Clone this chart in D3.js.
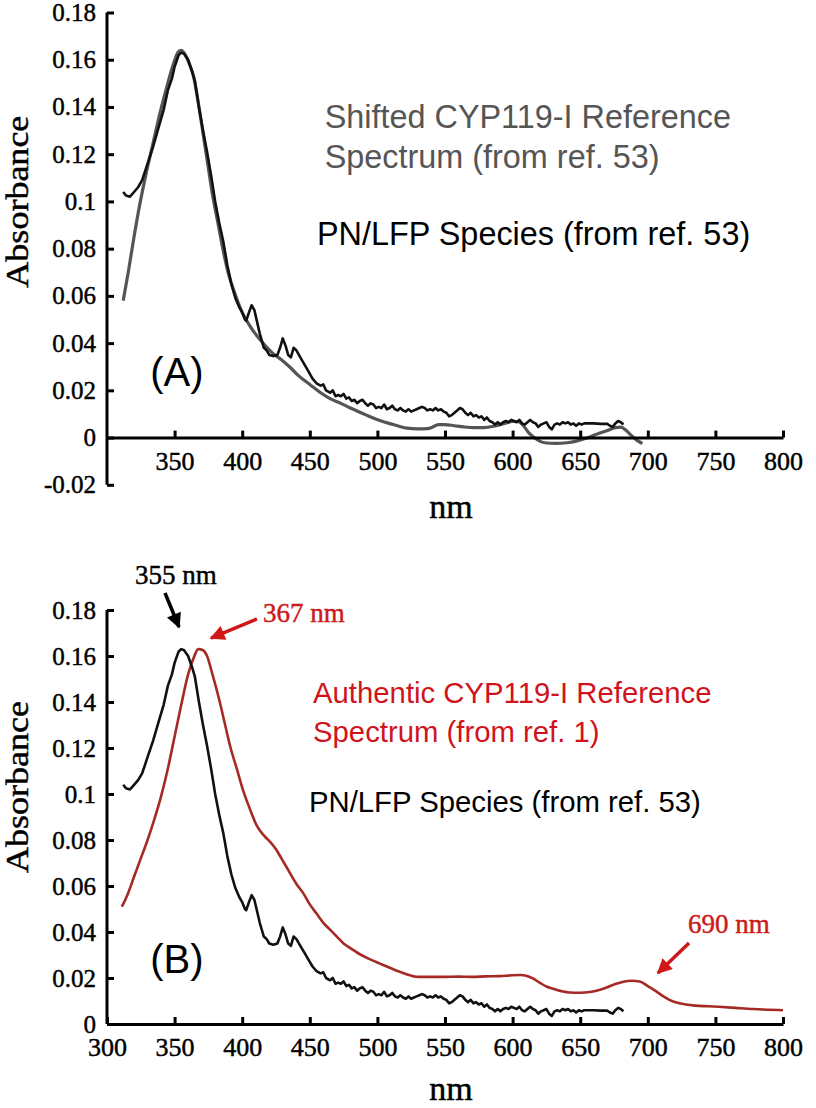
<!DOCTYPE html>
<html>
<head>
<meta charset="utf-8">
<script src="https://cdn.jsdelivr.net/npm/d3@7"></script>
<style>
body { margin: 0; background: #fff; }
.axis path, .axis line { stroke: #000; stroke-width: 3; }
.axis text { font-family: "Liberation Serif", serif; font-size: 25px; fill: #000; stroke: #000; stroke-width: 0.45; }
.ann { font-family: "Liberation Sans", Arial, sans-serif; }
.serif { font-family: "Liberation Serif", serif; stroke-width: 0.45; }
</style>
</head>
<body>
<svg id="chart"></svg>
<script>

// PN/LFP species spectrum (ref. 53), [nm, absorbance]
const pnlfp = [
  [312,0.104],[314,0.1025],[317,0.102],[320,0.104],[323,0.106],[326,0.109],[330,0.116],[334,0.123],
  [338,0.131],[342,0.139],[345,0.147],[348,0.152],[350,0.157],[353,0.162],[355,0.163],[357,0.1625],
  [360,0.160],[363,0.155],[365,0.151],[368,0.140],[371,0.130],[374,0.121],[377,0.111],[380,0.100],
  [383,0.091],[386,0.083],[389,0.073],[392,0.065],[395,0.059],[398,0.055],[400,0.053],[402,0.050],
  [403,0.0495],[405,0.053],[407,0.056],[409,0.054],[411,0.049],[413,0.044],[415,0.040],[416,0.038],
  [418,0.037],[420,0.035],[423,0.0345],[426,0.035],[428,0.038],[430,0.042],[432,0.039],[434,0.035],
  [436,0.034],[438,0.038],[440,0.037],[443,0.034],[446,0.031],[449,0.028],[452,0.025],[455,0.023],
  [458,0.022],[460,0.0225],[462,0.020],[465,0.019],[467,0.020],[469,0.0175],[471,0.018],[473,0.0175],
  [475,0.0185],[477,0.0165],[479,0.017],[481,0.0155],[483,0.016],[485,0.0145],[487,0.0155],[489,0.016],
  [491,0.0145],[493,0.0135],[495,0.0145],[497,0.014],[499,0.0125],[501,0.013],[503,0.0125],[505,0.014],
  [507,0.012],[509,0.0125],[511,0.0135],[513,0.012],[515,0.0115],[517,0.0125],[519,0.0115],[521,0.011],
  [523,0.012],[525,0.011],[527,0.0115],[529,0.012],[531,0.0125],[533,0.013],[535,0.0125],[537,0.0115],
  [539,0.012],[541,0.0115],[543,0.0125],[545,0.0115],[547,0.012],[549,0.011],[551,0.0105],[553,0.009],
  [555,0.0095],[557,0.0105],[559,0.0115],[561,0.0125],[563,0.012],[565,0.0105],[567,0.0095],[569,0.0105],
  [571,0.009],[573,0.0095],[575,0.0085],[577,0.009],[579,0.0075],[581,0.0085],[583,0.007],[585,0.0065],
  [587,0.0055],[589,0.0065],[591,0.0055],[593,0.0065],[595,0.007],[597,0.0065],[599,0.0075],[601,0.007],
  [603,0.0065],[605,0.0075],[607,0.006],[609,0.0055],[611,0.0065],[613,0.0075],[615,0.0065],[617,0.006],
  [619,0.0045],[621,0.0055],[623,0.006],[625,0.0065],[627,0.0045],[629,0.0035],[631,0.0055],[633,0.006],
  [635,0.0055],[637,0.0065],[639,0.006],[641,0.0065],[643,0.0055],[645,0.006],[647,0.005],[649,0.006],
  [651,0.0055],[653,0.006],[655,0.006],[660,0.006],[665,0.0058],[670,0.0058],[672,0.005],[674,0.0045],
  [676,0.006],[678,0.007],[680,0.0065],[682,0.0055]
]

// shifted CYP119-I reference (ref. 53), panel A
const refShifted = [
  [312,0.058],[316,0.071],[320,0.085],[324,0.098],[329,0.112],[334,0.1245],[339,0.137],[344,0.148],
  [349,0.158],[353,0.1635],[355,0.164],[358,0.162],[361,0.158],[364,0.153],[368,0.140],[371,0.129],
  [375,0.114],[378,0.103],[382,0.091],[386,0.079],[390,0.069],[394,0.062],[400,0.053],[406,0.047],
  [411,0.043],[417,0.039],[423,0.0355],[429,0.033],[435,0.030],[442,0.026],[450,0.0225],[458,0.019],
  [465,0.0165],[473,0.0145],[480,0.0125],[488,0.0105],[496,0.0085],[503,0.007],[510,0.0058],[516,0.0048],
  [522,0.004],[530,0.0037],[537,0.0038],[541,0.0045],[545,0.0055],[550,0.0055],[557,0.005],[564,0.0045],
  [572,0.0042],[579,0.0042],[586,0.0048],[594,0.006],[600,0.0068],[604,0.0068],[608,0.005],[612,0.002],
  [616,0.000],[620,-0.0015],[625,-0.0023],[632,-0.0025],[640,-0.0022],[647,-0.0015],[653,-0.0005],
  [658,0.0005],[664,0.0018],[670,0.003],[676,0.0042],[680,0.0044],[684,0.003],[688,0.0008],[692,-0.0012],
  [696,-0.0025]
]

// authentic CYP119-I reference (ref. 1), panel B
const refAuthentic = [
  [311,0.051],[315,0.056],[320,0.064],[325,0.072],[330,0.080],[335,0.089],[340,0.099],[345,0.111],
  [350,0.125],[355,0.139],[360,0.152],[364,0.159],[367.5,0.163],[371,0.1625],[374,0.160],[378,0.152],
  [383,0.141],[387,0.131],[391,0.121],[396,0.111],[401,0.101],[406,0.093],[411,0.086],[416,0.082],
  [421,0.079],[425,0.076],[429,0.072],[434,0.067],[440,0.061],[445,0.057],[450,0.052],[455,0.048],
  [460,0.044],[465,0.041],[470,0.038],[475,0.035],[480,0.033],[488,0.030],[495,0.028],[503,0.026],
  [511,0.024],[520,0.022],[530,0.0205],[540,0.0205],[550,0.0205],[560,0.0206],[570,0.0205],[580,0.0207],
  [590,0.0208],[600,0.0212],[606,0.0213],[610,0.021],[615,0.0198],[620,0.018],[625,0.0163],[630,0.0153],
  [636,0.0143],[642,0.0137],[650,0.0136],[657,0.0139],[664,0.0148],[670,0.016],[676,0.0174],[682,0.0184],
  [688,0.0188],[694,0.0185],[700,0.0165],[706,0.0143],[711,0.0122],[716,0.0105],[722,0.0092],[728,0.0085],
  [735,0.008],[745,0.0077],[755,0.0074],[765,0.007],[778,0.0065],[790,0.0062],[800,0.006]
]

const xTicksA = [350, 400, 450, 500, 550, 600, 650, 700, 750, 800]
const xTicksB = [300, 350, 400, 450, 500, 550, 600, 650, 700, 750, 800]
const yTicksA = [-0.02, 0, 0.02, 0.04, 0.06, 0.08, 0.1, 0.12, 0.14, 0.16, 0.18]
const yTicksB = [0, 0.02, 0.04, 0.06, 0.08, 0.1, 0.12, 0.14, 0.16, 0.18]

// annotation text: [text, nm, absorbance]
const notesA = [
  ['Shifted CYP119-I Reference', 461, 0.1313],
  ['Spectrum (from ref. 53)', 461, 0.1143],
  ['PN/LFP Species (from ref. 53)', 455.3, 0.0814]
]
const notesB = [
  ['Authentic CYP119-I Reference', 452.4, 0.1396],
  ['Spectrum (from ref. 1)', 452.4, 0.1226],
  ['PN/LFP Species (from ref. 53)', 449.4, 0.0922]
]
// peak labels and arrows: [text, nm, abs, fromNm, fromAbs, toNm, toAbs]
const peaksB = [
  ['355 nm', 320.7, 0.1913, 342.9, 0.1874, 353.3, 0.1726],
  ['367 nm', 415.4, 0.1748, 410.9, 0.1761, 376.9, 0.1678],
  ['690 nm', 729.7, 0.0396, 730.5, 0.0352, 707.5, 0.0222]
]

const W = 816, H = 1108
const svg = d3.select('#chart').attr('width', W).attr('height', H)

const x = d3.scaleLinear().domain([300, 800]).range([107, 783])
const yA = d3.scaleLinear().domain([-0.02, 0.18]).range([484.8, 12.5])
const yB = d3.scaleLinear().domain([0, 0.18]).range([1024, 610])

const fmt = d => String(+d.toFixed(2))

const defs = svg.append('defs')
function marker(id, color) {
  defs.append('marker')
    .attr('id', id)
    .attr('markerUnits', 'userSpaceOnUse')
    .attr('viewBox', '0 0 10 10')
    .attr('refX', 9).attr('refY', 5)
    .attr('markerWidth', 17).attr('markerHeight', 15)
    .attr('orient', 'auto')
    .append('path')
      .attr('d', 'M0,0 L10,5 L0,10 Z')
      .attr('fill', color)
}
marker('arrow-black', '#000')
marker('arrow-red', '#d01818')

function drawPanel(y, xTicks, yTicks, label, notes, noteColors, noteSize, series) {
  let g = svg.append('g')

  // curves
  series.forEach(s => {
    let line = d3.line()
      .x(d => x(d[0]))
      .y(d => y(d[1]))
      .curve(s.curve)
    g.append('path')
      .datum(s.data)
      .attr('d', line)
      .attr('fill', 'none')
      .attr('stroke', s.color)
      .attr('stroke-width', s.width)
      .attr('stroke-linejoin', 'round')
  })

  // axes
  g.append('g')
    .attr('class', 'axis')
    .attr('transform', `translate(0,${y(0)})`)
    .call(d3.axisBottom(x).tickValues(xTicks).tickSize(-7).tickSizeOuter(0).tickPadding(14).tickFormat(d3.format('d')))
    .call(a => a.selectAll('text').style('font-size', '26px'))

  g.append('g')
    .attr('class', 'axis')
    .attr('transform', `translate(${x(300)},0)`)
    .call(d3.axisLeft(y).tickValues(yTicks).tickSize(-7).tickSizeOuter(0).tickPadding(11).tickFormat(fmt))
    .call(a => a.select('.domain').attr('d', `M0,${y(yTicks[0])}V${y(yTicks[yTicks.length - 1])}`))

  // axis titles
  let yMid = (y(yTicks[0]) + y(yTicks[yTicks.length - 1])) / 2
  g.append('text')
    .attr('class', 'serif')
    .attr('transform', `translate(28,${yMid + (yTicks[0] < 0 ? -47 : -30)}) rotate(-90)`)
    .attr('text-anchor', 'middle')
    .attr('font-size', 32)
    .attr('stroke', '#000')
    .attr('textLength', 172)
    .attr('lengthAdjust', 'spacingAndGlyphs')
    .text('Absorbance')

  g.append('text')
    .attr('class', 'serif')
    .attr('x', x(550) + 6)
    .attr('y', y(0) + (yTicks[0] < 0 ? 80 : 76))
    .attr('text-anchor', 'middle')
    .attr('font-size', 34)
    .attr('stroke', '#000')
    .text('nm')

  // legend-style notes
  notes.forEach((n, i) => {
    g.append('text')
      .attr('class', 'ann')
      .attr('x', x(n[1]))
      .attr('y', y(n[2]))
      .attr('font-size', noteSize)
      .attr('fill', noteColors[i])
      .text(n[0])
  })

  g.append('text')
    .attr('class', 'ann')
    .attr('x', x(332))
    .attr('y', y(0.022))
    .attr('font-size', 40)
    .text(label)

  return g
}

drawPanel(yA, xTicksA, yTicksA, '(A)', notesA, ['#555', '#555', '#000'], 32.4, [
  {data: refShifted, color: '#555', width: 3.2, curve: d3.curveMonotoneX},
  {data: pnlfp, color: '#111', width: 2.6, curve: d3.curveLinear}
])

let gB = drawPanel(yB, xTicksB, yTicksB, '(B)', notesB, ['#d0141e', '#d0141e', '#000'], 29.3, [
  {data: refAuthentic, color: '#a52a26', width: 2.6, curve: d3.curveMonotoneX},
  {data: pnlfp, color: '#111', width: 2.6, curve: d3.curveLinear}
])

// peak callouts
peaksB.forEach((p, i) => {
  let col = i === 0 ? '#000' : '#d01818'
  gB.append('text')
    .attr('class', 'serif')
    .attr('x', x(p[1]))
    .attr('y', yB(p[2]))
    .attr('font-size', 27)
    .attr('fill', i === 0 ? '#000' : '#cc1a1a')
    .attr('stroke', i === 0 ? '#000' : '#cc1a1a')
    .text(p[0])
  gB.append('line')
    .attr('x1', x(p[3])).attr('y1', yB(p[4]))
    .attr('x2', x(p[5])).attr('y2', yB(p[6]))
    .attr('stroke', col)
    .attr('stroke-width', 3.5)
    .attr('marker-end', `url(#arrow-${i === 0 ? 'black' : 'red'})`)
})

</script>
</body>
</html>
